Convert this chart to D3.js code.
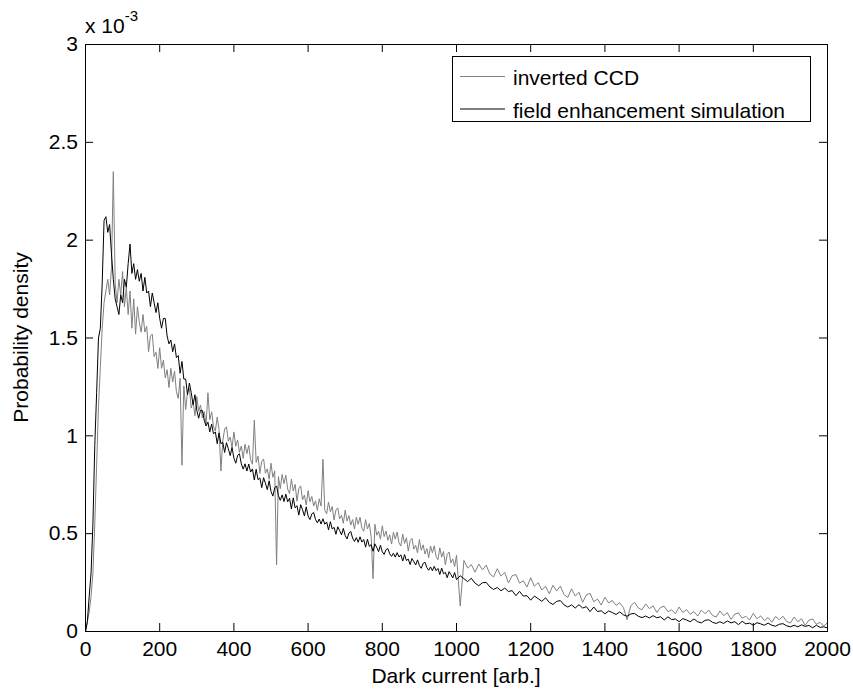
<!DOCTYPE html>
<html>
<head>
<meta charset="utf-8">
<script src="https://cdn.jsdelivr.net/npm/d3@7"></script>
<style>
  body { margin: 0; background: #fff; overflow: hidden; }
  svg { display: block; }
  text { font-family: "Liberation Sans", Arial, Helvetica, sans-serif; }
</style>
</head>
<body>
<svg id="chart"></svg>
<script>
// dark current bins: 5-unit steps below 1000, then 10-unit steps to 2000
const darkCurrent = d3.range(0, 1000, 5).concat(d3.range(1000, 2001, 10));

// probability density, in units of 1e-3
const simulation = [
  0.00, 0.05, 0.18, 0.30, 0.55, 0.95, 1.22, 1.50, 1.55, 1.78,
  2.10, 2.12, 2.04, 2.08, 1.93, 1.80, 1.70, 1.66, 1.62, 1.72,
  1.68, 1.80, 1.76, 1.88, 1.98, 1.83, 1.88, 1.80, 1.85, 1.79,
  1.83, 1.74, 1.81, 1.73, 1.74, 1.66, 1.73, 1.68, 1.63, 1.68,
  1.60, 1.55, 1.60, 1.60, 1.51, 1.47, 1.49, 1.43, 1.47, 1.40,
  1.41, 1.32, 1.38, 1.29, 1.29, 1.21, 1.27, 1.22, 1.16, 1.21,
  1.13, 1.09, 1.13, 1.13, 1.08, 1.05, 1.07, 1.02, 1.06, 1.01,
  1.02, 0.96, 1.015, 0.96, 0.967, 0.915, 0.965, 0.934, 0.899, 0.94,
  0.886, 0.86, 0.90, 0.908, 0.857, 0.83, 0.857, 0.82, 0.856, 0.815,
  0.831, 0.774, 0.829, 0.776, 0.785, 0.735, 0.786, 0.758, 0.725, 0.77,
  0.716, 0.692, 0.734, 0.744, 0.695, 0.67, 0.698, 0.664, 0.702, 0.663,
  0.681, 0.626, 0.683, 0.632, 0.643, 0.595, 0.648, 0.622, 0.591, 0.637,
  0.59, 0.572, 0.601, 0.608, 0.573, 0.555, 0.575, 0.549, 0.576, 0.548,
  0.56, 0.52, 0.561, 0.524, 0.532, 0.497, 0.535, 0.516, 0.494, 0.527,
  0.49, 0.473, 0.503, 0.511, 0.477, 0.46, 0.48, 0.456, 0.484, 0.457,
  0.47, 0.431, 0.472, 0.435, 0.444, 0.41, 0.448, 0.43, 0.408, 0.441,
  0.407, 0.394, 0.418, 0.424, 0.397, 0.384, 0.40, 0.38, 0.403, 0.381,
  0.392, 0.36, 0.393, 0.363, 0.37, 0.342, 0.373, 0.357, 0.34, 0.366,
  0.337, 0.323, 0.348, 0.354, 0.327, 0.313, 0.33, 0.31, 0.333, 0.311,
  0.322, 0.291, 0.324, 0.295, 0.302, 0.275, 0.306, 0.291, 0.274, 0.301,
  0.265, 0.285, 0.27, 0.255, 0.272, 0.247, 0.234, 0.249, 0.251, 0.228,
  0.215, 0.225, 0.208, 0.222, 0.204, 0.209, 0.183, 0.205, 0.181, 0.183,
  0.16, 0.181, 0.168, 0.154, 0.172, 0.149, 0.138, 0.154, 0.158, 0.136,
  0.125, 0.136, 0.12, 0.137, 0.12, 0.127, 0.102, 0.125, 0.102, 0.106,
  0.09, 0.105, 0.097, 0.087, 0.10, 0.085, 0.078, 0.09, 0.092, 0.078,
  0.071, 0.079, 0.069, 0.081, 0.07, 0.075, 0.059, 0.075, 0.061, 0.064,
  0.05, 0.066, 0.059, 0.05, 0.064, 0.05, 0.044, 0.057, 0.06, 0.047,
  0.041, 0.05, 0.041, 0.054, 0.044, 0.05, 0.035, 0.052, 0.039, 0.043,
  0.032, 0.045, 0.039, 0.032, 0.043, 0.032, 0.027, 0.037, 0.04, 0.029,
  0.024, 0.032, 0.024, 0.034, 0.026, 0.031, 0.019, 0.032, 0.021, 0.024,
  0.018
];

const invertedCCD = [
  0.00, 0.05, 0.10, 0.18, 0.30, 0.55, 0.85, 1.15, 1.35, 1.55,
  1.68, 1.74, 1.80, 1.72, 1.86, 2.35, 1.78, 1.68, 1.80, 1.72,
  1.84, 1.66, 1.76, 1.62, 1.74, 1.55, 1.70, 1.52, 1.66, 1.58,
  1.53, 1.62, 1.53, 1.56, 1.43, 1.51, 1.52, 1.405, 1.427, 1.344,
  1.45, 1.345, 1.387, 1.296, 1.338, 1.247, 1.345, 1.275, 1.331, 1.226,
  1.191, 1.294, 0.85, 1.255, 1.134, 1.223, 1.242, 1.142, 1.175, 1.103,
  1.20, 1.126, 1.157, 1.093, 1.124, 1.06, 1.22, 1.082, 1.123, 1.049,
  1.025, 1.096, 1.032, 0.82, 0.974, 1.035, 1.046, 0.972, 0.993, 0.939,
  1.02, 0.947, 0.979, 0.916, 0.948, 0.885, 0.957, 0.909, 0.951, 0.878,
  0.855, 1.08, 0.864, 0.896, 0.808, 0.87, 0.882, 0.809, 0.831, 0.778,
  0.86, 0.788, 0.821, 0.34, 0.792, 0.73, 0.803, 0.756, 0.799, 0.727,
  0.705, 0.779, 0.718, 0.752, 0.666, 0.73, 0.744, 0.673, 0.697, 0.646,
  0.72, 0.663, 0.69, 0.641, 0.668, 0.619, 0.678, 0.641, 0.88, 0.619,
  0.602, 0.661, 0.612, 0.639, 0.57, 0.621, 0.632, 0.575, 0.594, 0.553,
  0.62, 0.564, 0.592, 0.544, 0.572, 0.524, 0.584, 0.548, 0.584, 0.528,
  0.512, 0.572, 0.524, 0.552, 0.484, 0.27, 0.548, 0.492, 0.512, 0.472,
  0.54, 0.485, 0.513, 0.466, 0.494, 0.447, 0.507, 0.472, 0.508, 0.453,
  0.437, 0.498, 0.45, 0.479, 0.411, 0.464, 0.476, 0.421, 0.441, 0.402,
  0.47, 0.415, 0.443, 0.396, 0.424, 0.377, 0.437, 0.402, 0.438, 0.383,
  0.367, 0.428, 0.38, 0.409, 0.341, 0.394, 0.406, 0.351, 0.371, 0.332,
  0.39, 0.13, 0.363, 0.324, 0.342, 0.303, 0.345, 0.315, 0.339, 0.294,
  0.279, 0.321, 0.283, 0.302, 0.248, 0.285, 0.291, 0.247, 0.259, 0.227,
  0.275, 0.231, 0.25, 0.212, 0.231, 0.193, 0.236, 0.207, 0.232, 0.188,
  0.174, 0.218, 0.181, 0.201, 0.149, 0.187, 0.195, 0.152, 0.166, 0.135,
  0.175, 0.146, 0.159, 0.134, 0.147, 0.122, 0.06, 0.132, 0.149, 0.12,
  0.111, 0.141, 0.117, 0.131, 0.097, 0.123, 0.129, 0.101, 0.111, 0.091,
  0.125, 0.097, 0.112, 0.088, 0.102, 0.079, 0.109, 0.091, 0.109, 0.082,
  0.074, 0.105, 0.081, 0.096, 0.062, 0.089, 0.095, 0.068, 0.078, 0.059,
  0.093, 0.065, 0.08, 0.056, 0.071, 0.047, 0.077, 0.06, 0.078, 0.051,
  0.043, 0.074, 0.05, 0.065, 0.031, 0.058, 0.064, 0.037, 0.047, 0.028,
  0.045
];

const xTicks = [0, 200, 400, 600, 800, 1000, 1200, 1400, 1600, 1800, 2000];
const yTicks = [0, 0.5, 1, 1.5, 2, 2.5, 3];
const yTickLabels = ["0", "0.5", "1", "1.5", "2", "2.5", "3"];
const seriesNames = ["inverted CCD", "field enhancement simulation"];
const seriesColors = ["#808080", "#000000"];

const width = 853, height = 691;
const margin = { top: 44, right: 26, bottom: 60, left: 85 };
const innerWidth = width - margin.left - margin.right;   // 742
const innerHeight = height - margin.top - margin.bottom; // 587
const fontSize = 21;

const svg = d3.select("#chart")
    .attr("width", width)
    .attr("height", height);

svg.append("rect")
    .attr("width", width)
    .attr("height", height)
    .attr("fill", "#fff");

const chart = svg.append("g")
    .attr("transform", `translate(${margin.left}, ${margin.top})`);

const xscale = d3.scaleLinear().domain([0, 2000]).range([0, innerWidth]);
const yscale = d3.scaleLinear().domain([0, 3]).range([innerHeight, 0]);

// clip the curves to the axes box
chart.append("clipPath").attr("id", "plot-clip")
    .append("rect")
    .attr("width", innerWidth + 1)
    .attr("height", innerHeight + 1);

const line = d3.line()
    .x(d => xscale(d[0]) + 0.5)
    .y(d => yscale(d[1]) + 0.5);

const curves = [
    darkCurrent.map((x, i) => [x, invertedCCD[i]]),
    darkCurrent.map((x, i) => [x, simulation[i]])
];

curves.forEach((data, i) => {
    chart.append("path")
        .datum(data)
        .attr("clip-path", "url(#plot-clip)")
        .attr("d", line)
        .attr("fill", "none")
        .attr("stroke", seriesColors[i])
        .attr("stroke-width", 1)
        .attr("stroke-linejoin", "round");
});

// axes, MATLAB style: ticks pointing inwards on all four sides
const xaxisGroup = chart.append("g")
    .attr("transform", `translate(0, ${innerHeight})`)
    .call(d3.axisBottom(xscale).tickValues(xTicks).tickSizeInner(-8).tickSizeOuter(0)
        .tickPadding(10).tickFormat(d3.format("d")));

const yaxisGroup = chart.append("g")
    .call(d3.axisLeft(yscale).tickValues(yTicks).tickSizeInner(-8).tickSizeOuter(0)
        .tickPadding(7).tickFormat((d, i) => yTickLabels[i]));

const topAxis = chart.append("g")
    .call(d3.axisTop(xscale).tickValues(xTicks).tickSizeInner(-8).tickSizeOuter(0));

const rightAxis = chart.append("g")
    .attr("transform", `translate(${innerWidth}, 0)`)
    .call(d3.axisRight(yscale).tickValues(yTicks).tickSizeInner(-8).tickSizeOuter(0));

// the mirrored axes only carry tick marks
topAxis.selectAll("text").remove();
rightAxis.selectAll("text").remove();

chart.selectAll(".domain").remove();
chart.selectAll(".tick line").attr("stroke", "#000");

chart.selectAll("g text")
    .attr("font-family", null)
    .attr("font-size", fontSize)
    .attr("fill", "#000");

// axes box
chart.append("rect")
    .attr("x", 0.5)
    .attr("y", 0.5)
    .attr("width", innerWidth)
    .attr("height", innerHeight)
    .attr("fill", "none")
    .attr("stroke", "#000")
    .attr("stroke-width", 1);

// exponent above the y axis
const expo = svg.append("text")
    .attr("x", margin.left)
    .attr("y", 33)
    .attr("font-size", fontSize);
expo.append("tspan").text("x 10");
expo.append("tspan")
    .attr("font-size", 15)
    .attr("dy", -12)
    .text("-3");

// axis labels
svg.append("text")
    .attr("x", margin.left + innerWidth / 2)
    .attr("y", 683)
    .attr("text-anchor", "middle")
    .attr("font-size", fontSize)
    .text("Dark current [arb.]");

svg.append("text")
    .attr("transform", `translate(28, ${margin.top + innerHeight / 2}) rotate(-90)`)
    .attr("text-anchor", "middle")
    .attr("font-size", fontSize)
    .text("Probability density");

// legend
const legend = svg.append("g")
    .attr("transform", "translate(452, 56)");

legend.append("rect")
    .attr("x", 0.5)
    .attr("y", 0.5)
    .attr("width", 358)
    .attr("height", 65)
    .attr("fill", "#fff")
    .attr("stroke", "#000");

seriesNames.forEach((name, i) => {
    const y = 20 + i * 32.5;
    legend.append("line")
        .attr("x1", 8)
        .attr("x2", 53)
        .attr("y1", y + 0.5)
        .attr("y2", y + 0.5)
        .attr("stroke", seriesColors[i])
        .attr("stroke-width", 1);
    legend.append("text")
        .attr("x", 61)
        .attr("y", y + 9)
        .attr("font-size", fontSize)
        .text(name);
});
</script>
</body>
</html>
